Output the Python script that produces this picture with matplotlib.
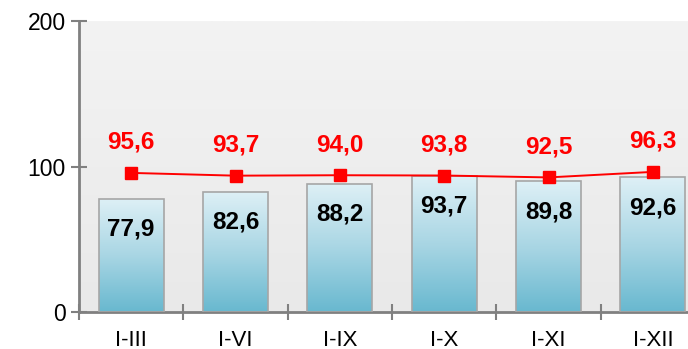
import matplotlib.pyplot as plt
import numpy as np
from matplotlib.colors import LinearSegmentedColormap

plt.rcParams['font.family'] = ['Liberation Sans', 'DejaVu Sans']

categories = ['I-III', 'I-VI', 'I-IX', 'I-X', 'I-XI', 'I-XII']
bar_values = [77.9, 82.6, 88.2, 93.7, 89.8, 92.6]
line_values = [95.6, 93.7, 94.0, 93.8, 92.5, 96.3]

fig = plt.figure(figsize=(6.88, 3.49), dpi=100)
# plot area runs past the right edge of the picture
ax = fig.add_axes([79 / 688, (349 - 312) / 349, 626 / 688, 291 / 349])

x = np.arange(len(categories))

# background gradient
bg = LinearSegmentedColormap.from_list('bg', ['#e9e9e9', '#f3f3f3'])
ax.imshow(np.linspace(0, 1, 256).reshape(-1, 1), cmap=bg, aspect='auto',
          extent=[-0.5, len(categories) - 0.5, 0, 200], origin='lower', zorder=0)

# bars with vertical gradient
bar_cmap = LinearSegmentedColormap.from_list('bar', ['#68b8cf', '#a9d6e4', '#def0f6'])
bars = ax.bar(x, bar_values, width=0.62, color='none', edgecolor='#a6a6a6',
              linewidth=1.2, zorder=3)
for b in bars:
    x0, y0 = b.get_x(), b.get_y()
    w, h = b.get_width(), b.get_height()
    im = ax.imshow(np.linspace(0, 1, 256).reshape(-1, 1), cmap=bar_cmap, aspect='auto',
                   extent=[x0, x0 + w, y0, y0 + h], origin='lower', zorder=2)
    im.set_clip_path(b)

ax.set_xlim(-0.5, len(categories) - 0.5)
ax.set_ylim(0, 200)

ax.plot(x, line_values, color='#ff0000', linewidth=1.4, marker='s', markersize=8.5, zorder=5)

for xi, v in zip(x, line_values):
    ax.annotate(f'{v:.1f}'.replace('.', ','), (xi, v), xytext=(0, 22), textcoords='offset points',
                ha='center', va='center', color='#ff0000', fontsize=17.5, fontweight='bold', zorder=6)
for xi, v in zip(x, bar_values):
    ax.annotate(f'{v:.1f}'.replace('.', ','), (xi, v), xytext=(0, -22), textcoords='offset points',
                ha='center', va='center', color='black', fontsize=17.5, fontweight='bold', zorder=6)

ax.set_yticks([0, 100, 200])
ax.set_xticks(np.arange(len(categories) + 1) - 0.5, minor=False)
ax.set_xticklabels([])
ax.set_xticks(x, minor=True)
ax.set_xticklabels(categories, minor=True)
ax.tick_params(axis='x', which='minor', length=0, pad=13, labelsize=16)
ax.tick_params(axis='x', which='major', direction='inout', length=11, width=1.5, color='#808080')
ax.tick_params(axis='y', direction='inout', length=11, width=1.5, color='#808080', labelsize=16.5, pad=4)

for s in ['top', 'right']:
    ax.spines[s].set_visible(False)
for s in ['left', 'bottom']:
    ax.spines[s].set_color('#808080')
    ax.spines[s].set_linewidth(2)

fig.savefig('out.png', dpi=100)
